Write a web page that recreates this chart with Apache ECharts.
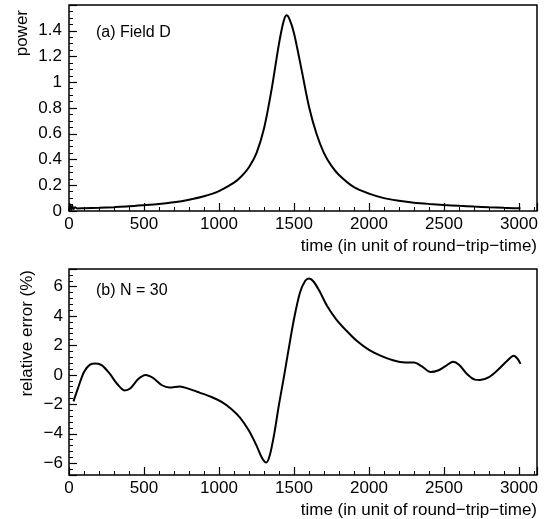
<!DOCTYPE html>
<html>
<head>
<meta charset="utf-8">
<script src="https://cdn.jsdelivr.net/npm/echarts@6/dist/echarts.min.js"></script>
<style>
  html, body { margin: 0; padding: 0; background: #fff; }
  #chart { width: 546px; height: 519px; }
</style>
</head>
<body>
<div id="chart"></div>
<script>
// (a) power of field D vs time
var timeA = [0, 8, 15, 22, 30, 40, 55, 100, 200, 300, 400, 500, 600, 700, 800, 900, 1000,
  1100, 1150, 1200, 1250, 1300, 1350, 1400, 1430, 1450, 1470, 1500, 1550, 1600, 1650,
  1700, 1750, 1800, 1900, 2000, 2100, 2200, 2300, 2400, 2500, 2600, 2700, 2800, 2900, 3000, 3010];
var powerA = [0.00, 0.05, 0.01, 0.04, 0.015, 0.03, 0.02, 0.022, 0.025, 0.03, 0.036, 0.045, 0.055,
  0.068, 0.088, 0.115, 0.155, 0.22, 0.27, 0.34, 0.45, 0.64, 0.94, 1.30, 1.47, 1.52, 1.49, 1.38,
  1.10, 0.81, 0.60, 0.45, 0.35, 0.28, 0.185, 0.135, 0.10, 0.08, 0.065, 0.055, 0.047, 0.04,
  0.034, 0.029, 0.025, 0.022, 0.022];

// (b) relative error (%), N = 30
var timeB = [30, 60, 100, 140, 180, 220, 270, 320, 370, 410, 460, 510, 560, 620, 670, 740, 800,
  870, 950, 1020, 1080, 1140, 1200, 1250, 1290, 1315, 1340, 1370, 1400, 1430, 1460, 1500, 1540,
  1575, 1600, 1630, 1670, 1720, 1780, 1850, 1920, 2000, 2080, 2160, 2240, 2300, 2350, 2410,
  2460, 2510, 2560, 2600, 2650, 2700, 2740, 2800, 2860, 2920, 2965, 2990, 3010];
var errB = [-1.8, -0.9, 0.2, 0.7, 0.78, 0.65, 0.1, -0.6, -1.05, -0.9, -0.3, 0.0, -0.2, -0.7,
  -0.85, -0.78, -0.95, -1.2, -1.5, -1.85, -2.3, -2.9, -3.8, -4.8, -5.7, -5.95, -5.4, -3.9, -2.0,
  -0.3, 1.5, 3.8, 5.6, 6.4, 6.55, 6.35, 5.7, 4.7, 3.8, 3.0, 2.3, 1.7, 1.3, 1.0, 0.85, 0.85, 0.6,
  0.2, 0.3, 0.6, 0.9, 0.7, 0.1, -0.3, -0.35, -0.15, 0.35, 0.95, 1.3, 1.1, 0.75];

var FONT = '"Liberation Sans", Arial, sans-serif';
var minus = function (v) { return String(v).replace('-', '\u2212'); };

function xAxisCfg(gridIndex) {
  return {
    type: 'value', gridIndex: gridIndex, min: 0, max: 3120, splitNumber: 6,
    name: 'time (in unit of round\u2212trip\u2212time)', nameLocation: 'end', nameGap: 0,
    nameTextStyle: { color: '#000', fontFamily: FONT, fontSize: 17, align: 'right',
      verticalAlign: 'top', padding: [27, 0, 0, 0] },
    axisLine: { show: false, onZero: false },
    axisTick: { inside: true, length: 8, lineStyle: { color: '#000', width: 1.2 } },
    minorTick: { show: true, splitNumber: 5, length: 4, lineStyle: { color: '#000', width: 1 } },
    splitLine: { show: false },
    axisLabel: { color: '#000', fontFamily: FONT, fontSize: 17, margin: 5,
      showMaxLabel: false,
      formatter: function (v) { return v % 500 === 0 ? String(v) : ''; } }
  };
}

var chart = echarts.init(document.getElementById('chart'));
chart.setOption({
  backgroundColor: '#fff',
  animation: false,
  title: [
    { text: '(a) Field D', left: 91, top: 20,
      textStyle: { color: '#000', fontFamily: FONT, fontSize: 16, fontWeight: 'normal' } },
    { text: '(b) N = 30', left: 91, top: 278,
      textStyle: { color: '#000', fontFamily: FONT, fontSize: 16, fontWeight: 'normal' } }
  ],
  grid: [
    { left: 69, right: 9, top: 5, height: 206, show: true, borderColor: '#000', borderWidth: 1.5 },
    { left: 69, right: 9, top: 269, height: 207, show: true, borderColor: '#000', borderWidth: 1.5 }
  ],
  xAxis: [xAxisCfg(0), xAxisCfg(1)],
  yAxis: [
    {
      type: 'value', gridIndex: 0, min: 0, max: 1.6, splitNumber: 8,
      name: 'power', nameLocation: 'end', nameGap: -5, nameRotate: 90,
      nameTextStyle: { color: '#000', fontFamily: FONT, fontSize: 17, align: 'right',
        verticalAlign: 'bottom', padding: [0, 0, 38, 0] },
      axisLine: { show: false, onZero: false },
      axisTick: { inside: true, length: 8, lineStyle: { color: '#000', width: 1.2 } },
      minorTick: { show: true, splitNumber: 4, length: 4, lineStyle: { color: '#000', width: 1 } },
      splitLine: { show: false },
      axisLabel: { color: '#000', fontFamily: FONT, fontSize: 17, margin: 7, showMaxLabel: false }
    },
    {
      type: 'value', gridIndex: 1, min: -6.8, max: 7.2, splitNumber: 7,
      name: 'relative error (%)', nameLocation: 'end', nameGap: -1, nameRotate: 90,
      nameTextStyle: { color: '#000', fontFamily: FONT, fontSize: 17, align: 'right',
        verticalAlign: 'bottom', padding: [0, 0, 33, 0] },
      axisLine: { show: false, onZero: false },
      axisTick: { inside: true, length: 8, lineStyle: { color: '#000', width: 1.2 } },
      minorTick: { show: true, splitNumber: 5, length: 4, lineStyle: { color: '#000', width: 1 } },
      splitLine: { show: false },
      axisLabel: { color: '#000', fontFamily: FONT, fontSize: 17, margin: 6,
        showMinLabel: false, showMaxLabel: false,
        formatter: function (v) { return Math.abs(v % 2) < 1e-6 ? minus(v) : ''; } }
    }
  ],
  series: [
    {
      type: 'line', xAxisIndex: 0, yAxisIndex: 0, showSymbol: false, smooth: 0.3,
      lineStyle: { color: '#000', width: 2 },
      data: timeA.map(function (t, i) { return [t, powerA[i]]; })
    },
    {
      type: 'line', xAxisIndex: 1, yAxisIndex: 1, showSymbol: false, smooth: 0.3,
      lineStyle: { color: '#000', width: 2 },
      data: timeB.map(function (t, i) { return [t, errB[i]]; })
    }
  ]
});
</script>
</body>
</html>
